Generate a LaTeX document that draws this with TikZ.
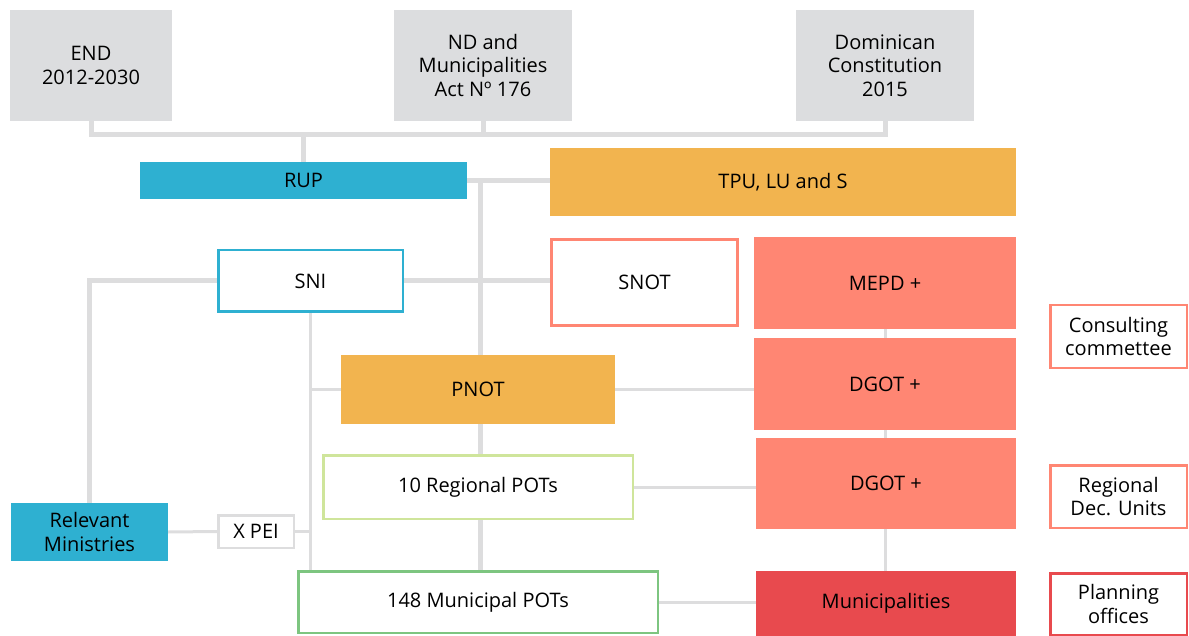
\documentclass[tikz,border=0pt]{standalone}
\usepackage{fontspec}
\setmainfont{Open Sans}
\newcommand\fs{\fontsize{20}{23.5}\selectfont}
\definecolor{boxgray}{HTML}{DCDDDF}
\definecolor{linegray}{HTML}{DDDDDE}
\definecolor{cyanb}{HTML}{2EB0D1}
\definecolor{orangeb}{HTML}{F2B44F}
\definecolor{salmon}{HTML}{FF8673}
\definecolor{redb}{HTML}{E84A4E}
\definecolor{lgreen}{HTML}{CFE59B}
\definecolor{greenb}{HTML}{7DC580}
\pgfdeclarelayer{bg}
\pgfsetlayers{bg,main}
\tikzset{
  base/.style={inner sep=0pt, align=center, font=\fs, text=black},
  filled/.style={base, fill=#1},
  outlined/.style={base, draw=#1, line width=2.5pt, fill=white},
  thickc/.style={draw=linegray, line width=5pt},
  thinc/.style={draw=linegray, line width=3pt}
}
\begin{document}
\begin{tikzpicture}[x=1pt,y=-1pt]
\useasboundingbox (0,0) rectangle (1189,636);
% top sources
\node[filled=boxgray, minimum width=162pt, minimum height=111pt] (END) at (91,65.5) {END\\2012-2030};
\node[filled=boxgray, minimum width=178pt, minimum height=111pt] (ND) at (483,65.5) {ND and\\Municipalities\\Act Nº 176};
\node[filled=boxgray, minimum width=178pt, minimum height=111pt] (DC) at (885,65.5) {Dominican\\Constitution\\2015};
% second row
\node[filled=cyanb, minimum width=327pt, minimum height=37pt] (RUP) at (303.5,180.5) {RUP};
\node[filled=orangeb, minimum width=466pt, minimum height=68pt] (TPU) at (783,182) {TPU, LU and S};
% middle
\node[outlined=cyanb, minimum width=184.5pt, minimum height=61.5pt] (SNI) at (310.5,281) {SNI};
\node[outlined=salmon, line width=3pt, minimum width=186pt, minimum height=86pt] (SNOT) at (644.5,282.5) {SNOT};
\node[filled=salmon, minimum width=262pt, minimum height=92pt] (MEPD) at (885,283) {MEPD +};
\node[filled=salmon, minimum width=262pt, minimum height=92pt] (DGOTa) at (885,384) {DGOT +};
\node[filled=salmon, minimum width=260pt, minimum height=91pt] (DGOTb) at (886,483.5) {DGOT +};
\node[filled=redb, minimum width=260pt, minimum height=65pt] (MUN) at (886,603.5) {Municipalities};
\node[filled=orangeb, minimum width=274pt, minimum height=69pt] (PNOT) at (478,389.5) {PNOT};
\node[outlined=lgreen, minimum width=309.5pt, minimum height=63.5pt] (RPOT) at (478,487) {10 Regional POTs};
\node[outlined=greenb, minimum width=359.5pt, minimum height=61.5pt] (MPOT) at (478,602) {148 Municipal POTs};
\node[filled=cyanb, minimum width=157pt, minimum height=58pt] (RM) at (89.5,532) {Relevant\\Ministries};
\node[outlined=linegray, minimum width=75.5pt, minimum height=32.5pt] (XPEI) at (256,531.5) {X PEI};
% right notes
\node[outlined=salmon, minimum width=136.5pt, minimum height=62.5pt] (CC) at (1118.5,336.5) {Consulting\\commettee};
\node[outlined=salmon, minimum width=136.5pt, minimum height=62.5pt] (RDU) at (1118.5,496.5) {Regional\\Dec. Units};
\node[outlined=redb, minimum width=136.5pt, minimum height=61.5pt] (PO) at (1118.5,604) {Planning\\offices};
% connectors
\begin{pgfonlayer}{bg}
\coordinate (h1) at (0,135);
\coordinate (vx) at (480,0);
\draw[thickc] (END.south) -- (END.south |- h1) -- (DC.south |- h1) -- (DC.south);
\draw[thickc] (ND.south) -- (ND.south |- h1);
\draw[thickc] (RUP.north) -- (RUP.north |- h1);
\draw[thickc] (RUP.east) -- (TPU.west |- RUP.east);
\draw[thickc] (vx |- RUP.east) -- (vx |- MPOT.north);
\draw[thickc] (RM.north) -- (RM.north |- SNI.west) -- (SNI.west);
\draw[thickc] (SNI.east) -- (SNOT.west |- SNI.east);
\draw[thinc] (SNI.south) -- (SNI.south |- MPOT.north);
\draw[thinc] (SNI.south |- PNOT.west) -- (PNOT.west);
\draw[thinc] (RM.east) -- (XPEI.west);
\draw[thinc] (XPEI.east) -- (SNI.south |- XPEI.east);
\draw[thinc] (PNOT.east) -- (DGOTa.west |- PNOT.east);
\draw[thinc] (RPOT.east) -- (DGOTb.west |- RPOT.east);
\draw[thinc] (MPOT.east) -- (MUN.west |- MPOT.east);
\draw[thinc] (MEPD.south) -- (MEPD.south |- MUN.north);
\end{pgfonlayer}
\end{tikzpicture}
\end{document}
